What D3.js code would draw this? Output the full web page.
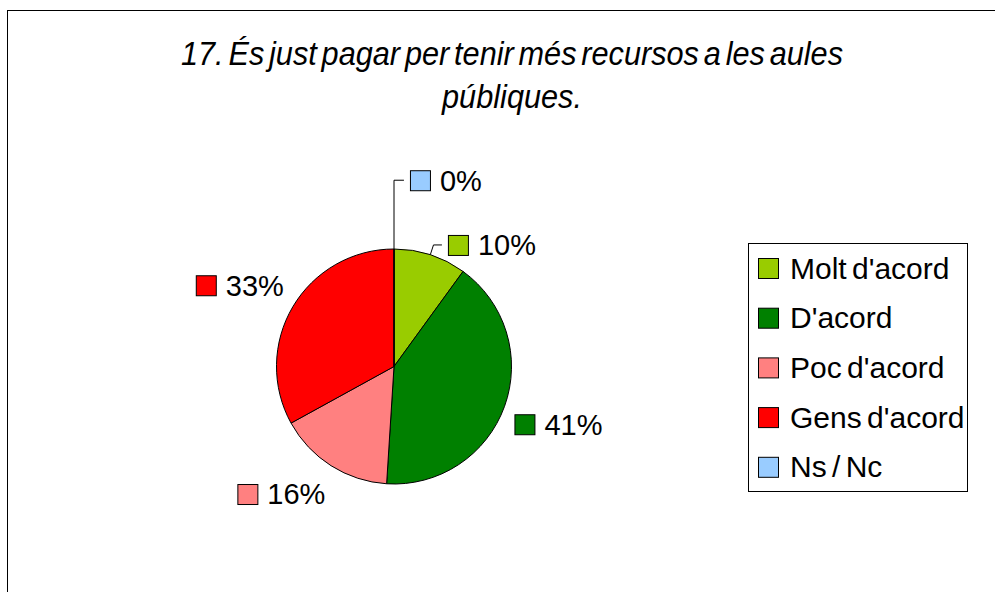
<!DOCTYPE html>
<html>
<head>
<meta charset="utf-8">
<script src="https://cdn.jsdelivr.net/npm/d3@7"></script>
<style>
  html, body { margin: 0; padding: 0; background: #fff; }
  svg { display: block; }
  text { font-family: "Liberation Sans", Arial, sans-serif; fill: #000; }
</style>
</head>
<body>
<svg id="chart" width="995" height="592"></svg>
<script>
// ---- data ----
const titleLines = ["17. És just pagar per tenir més recursos a les aules", "públiques."];
const categories = ["Molt d'acord", "D'acord", "Poc d'acord", "Gens d'acord", "Ns / Nc"];
const values = [10, 41, 16, 33, 0];
const colors = ["#99CC00", "#008000", "#FF8080", "#FF0000", "#99CCFF"];

// ---- layout ----
const W = 995, H = 592;
const cx = 394, cy = 366.5, R = 117.5;
const labelRx = 128, labelRy = 138;
const fontSize = 29;
// labels that Excel moved away from their default spot (polar: degrees clockwise from top, radius)
const movedLabels = { 0: { angle: 26, r: 123 }, 4: { angle: 5.2, r: 176 } };

const svg = d3.select("#chart");

// frame
svg.append("rect")
  .attr("x", 7.5).attr("y", 10.5)
  .attr("width", 1100).attr("height", 700)
  .attr("fill", "#fff").attr("stroke", "#000").attr("stroke-width", 1);

// title (condensed italic, like the original rendering)
const titleG = svg.append("g")
  .attr("transform", "translate(512,0) scale(0.93,1)");
const title = titleG.append("text")
  .attr("text-anchor", "middle")
  .style("font-style", "italic")
  .style("font-size", "33px")
  .style("word-spacing", "-4px");
titleLines.forEach((t, i) => {
  title.append("tspan").attr("x", 0).attr("y", 65 + i * 43).text(t);
});

// pie
const pie = d3.pie().value(d => d).sort(null);
const arcs = pie(values);
const arc = d3.arc().innerRadius(0).outerRadius(R);
const color = d3.scaleOrdinal().domain(categories).range(colors);

const g = svg.append("g").attr("transform", `translate(${cx},${cy})`);
g.selectAll("path.slice")
  .data(arcs)
  .join("path")
  .attr("class", "slice")
  .attr("d", arc)
  .attr("fill", (d, i) => color(categories[i]))
  .attr("stroke", "#000")
  .attr("stroke-width", 1)
  .attr("stroke-linejoin", "round");

// data labels
const pct = d3.format(".0%");
const total = d3.sum(values);
const sq = 20, gap = 10;

arcs.forEach((d, i) => {
  const mid = (d.startAngle + d.endAngle) / 2;
  const lg = svg.append("g");
  const txt = lg.append("text")
    .style("font-size", fontSize + "px")
    .text(pct(values[i] / total));
  const tw = txt.node().getComputedTextLength();
  const bw = sq + gap + tw, bh = 22;

  let ang = mid, rx = labelRx, ry = labelRy;
  const moved = movedLabels[i];
  if (moved) { ang = moved.angle * Math.PI / 180; rx = ry = moved.r; }
  const px = cx + rx * Math.sin(ang), py = cy - ry * Math.cos(ang);
  const s = Math.sin(ang), c = Math.cos(ang);
  const left = s >= 0 ? px : px - bw;
  const top = c >= 0 ? py - bh : py;
  const ymid = top + bh / 2;

  lg.insert("rect", "text")
    .attr("x", left + 0.5).attr("y", ymid - sq / 2 + 0.5)
    .attr("width", sq).attr("height", sq)
    .attr("fill", color(categories[i]))
    .attr("stroke", "#000").attr("stroke-width", 1);
  txt.attr("x", left + sq + gap).attr("y", ymid + fontSize * 0.36);

  if (moved) {
    const sx = cx + R * Math.sin(mid), sy = cy - R * Math.cos(mid);
    // elbow along the radial ray at the label's mid height
    const t = (cy - ymid) / Math.cos(mid);
    const ex = cx + t * Math.sin(mid);
    svg.append("polyline")
      .attr("points", [[sx, sy], [ex, ymid], [left - 6, ymid]].map(p => p.join(",")).join(" "))
      .attr("fill", "none").attr("stroke", "#000").attr("stroke-width", 1);
  }
});

// legend
const lx = 748.5, ly = 243.5, lw = 219, lh = 248;
const legend = svg.append("g");
legend.append("rect")
  .attr("x", lx).attr("y", ly).attr("width", lw).attr("height", lh)
  .attr("fill", "#fff").attr("stroke", "#000").attr("stroke-width", 1);
const ly0 = 268, lstep = 49.7;
const items = legend.selectAll("g.item")
  .data(categories)
  .join("g")
  .attr("class", "item")
  .attr("transform", (d, i) => `translate(758, ${ly0 + i * lstep})`);
items.append("rect")
  .attr("x", 0.5).attr("y", -9.5).attr("width", sq).attr("height", sq)
  .attr("fill", d => color(d)).attr("stroke", "#000").attr("stroke-width", 1);
items.append("text")
  .attr("x", 32).attr("y", 10.5)
  .style("font-size", "30px")
  .style("word-spacing", "-3px")
  .text(d => d);
</script>
</body>
</html>
